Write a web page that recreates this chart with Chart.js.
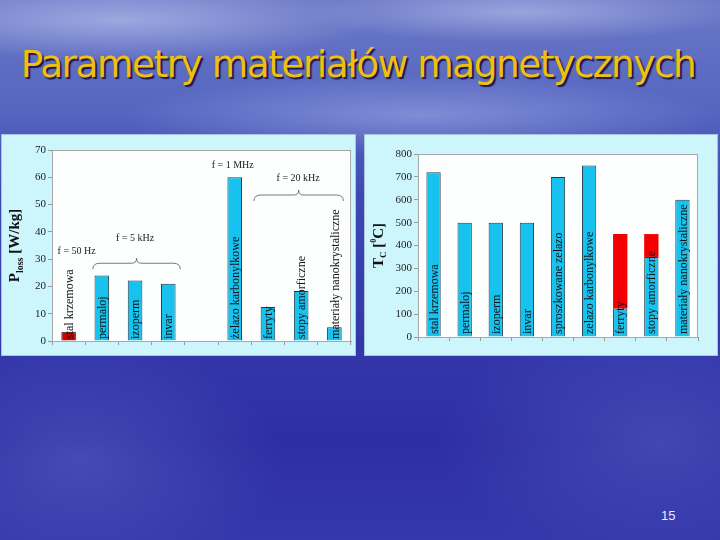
<!DOCTYPE html>
<html lang="pl">
<head>
<meta charset="UTF-8">
<title>Parametry materiałów magnetycznych</title>
<script src="https://cdn.jsdelivr.net/npm/chart.js@4.4.0/dist/chart.umd.min.js"></script>
<style>
    body {
        margin: 0;
        width: 720px;
        height: 540px;
        overflow: hidden;
        position: relative;
        background:
            radial-gradient(ellipse 260px 40px at 120px 20px, rgba(200,210,245,0.55), rgba(200,210,245,0)),
            radial-gradient(ellipse 220px 30px at 520px 12px, rgba(200,210,245,0.5), rgba(200,210,245,0)),
            radial-gradient(ellipse 300px 40px at 420px 115px, rgba(180,190,240,0.45), rgba(180,190,240,0)),
            radial-gradient(ellipse 200px 120px at 80px 460px, rgba(90,100,200,0.5), rgba(90,100,200,0)),
            radial-gradient(ellipse 220px 120px at 660px 440px, rgba(90,100,200,0.45), rgba(90,100,200,0)),
            linear-gradient(#6b78c6 0px, #5565c0 110px, #3d48b2 200px, #3236a8 360px, #2d2ea2 440px, #3438aa 540px);
        font-family: "Liberation Serif", serif;
    }
    h1 {
        position: absolute;
        left: 0;
        width: 716px;
        top: 42px;
        margin: 0;
        text-align: center;
        font-family: "DejaVu Sans", sans-serif;
        font-weight: normal;
        font-size: 38px;
        letter-spacing: -1.5px;
        color: #efbf12;
        text-shadow: 2px 2px 1px #1a1a50;
        transform: scaleX(0.985);
    }
    .panel {
        position: absolute;
        top: 135px;
        height: 220px;
        background: #ccf6fc;
        box-shadow: 0 0 0 1px #a9c4d8;
    }
    #p1 { left: 2px; width: 353px; }
    #p2 { left: 365px; width: 352px; }
    .num {
        position: absolute;
        left: 661px;
        top: 508px;
        color: #e8ecff;
        font-family: "Liberation Sans", sans-serif;
        font-size: 13px;
    }
</style>
</head>
<body>
<h1>Parametry materiałów magnetycznych</h1>
<div class="panel" id="p1"><canvas id="lossChart" width="353" height="220"></canvas></div>
<div class="panel" id="p2"><canvas id="tcChart" width="352" height="220"></canvas></div>
<div class="num">15</div>

<script>
    // straty mocy
    const lossLabels = ['stal krzemowa', 'permaloj', 'izoperm', 'invar', '', 'żelazo karbonylkowe', 'ferryty', 'stopy amorficzne', 'materiały nanokrystaliczne'];
    const lossValues = [3.4, 24, 22.2, 21, null, 60, 12.5, 18.3, 5];
    const lossTicks = [0, 10, 20, 30, 40, 50, 60, 70];

    // temperatura Curie
    const tcLabels = ['stal krzemowa', 'permaloj', 'izoperm', 'invar', 'sproszkowane zelazo', 'zelazo karbonylkowe', 'ferryty', 'stopy amorficzne', 'materiały nanokrystaliczne'];
    const tcLow = [720, 500, 500, 500, 700, 750, 125, 350, 600];
    const tcHigh = [null, null, null, null, null, null, 450, 450, null];
    const tcTicks = [0, 100, 200, 300, 400, 500, 600, 700, 800];

    const CYAN = '#17c2ef';
    const EDGE = '#203c48';
    const serif = '"Liberation Serif", serif';

    // rotated names inside bars, plot frame, axis title, brace notes
    const decor = {
        id: 'decor',
        beforeDatasetsDraw(chart) {
            const a = chart.chartArea, ctx = chart.ctx;
            ctx.save();
            ctx.fillStyle = '#fdffff';
            ctx.fillRect(a.left, a.top, a.right - a.left, a.bottom - a.top);
            ctx.strokeStyle = '#a8a8a8';
            ctx.lineWidth = 1;
            ctx.strokeRect(a.left + 0.5, a.top + 0.5, a.right - a.left - 1, a.bottom - a.top);
            ctx.restore();
        },
        afterDatasetsDraw(chart, args, opts) {
            const ctx = chart.ctx, x = chart.scales.x, y = chart.scales.y;
            const a = chart.chartArea;
            ctx.save();
            ctx.fillStyle = '#111';
            ctx.font = '12px ' + serif;
            ctx.textAlign = 'left';
            ctx.textBaseline = 'middle';
            chart.data.labels.forEach((lab, i) => {
                if (!lab) return;
                ctx.save();
                ctx.translate(x.getPixelForValue(i) + 1, a.bottom - opts.lift);
                ctx.rotate(-Math.PI / 2);
                ctx.fillText(lab, 0, 0);
                ctx.restore();
            });

            // axis title with sub/superscripts
            const parts = opts.title;
            let w = 0;
            parts.forEach(p => { ctx.font = p.f; p.w = ctx.measureText(p.t).width; w += p.w; });
            ctx.save();
            ctx.translate(a.left - opts.titleDx, (a.top + a.bottom) / 2);
            ctx.rotate(-Math.PI / 2);
            ctx.textAlign = 'left';
            ctx.textBaseline = 'alphabetic';
            let cx = -w / 2;
            parts.forEach(p => {
                ctx.font = p.f;
                ctx.fillText(p.t, cx, p.dy);
                cx += p.w;
            });
            ctx.restore();

            // frequency notes
            ctx.font = '10px ' + serif;
            ctx.textAlign = 'center';
            ctx.fillStyle = '#222';
            (opts.notes || []).forEach(n => {
                ctx.fillText(n.text, x.getPixelForValue(n.at) + (n.dx || 0), y.getPixelForValue(n.v));
            });
            ctx.strokeStyle = '#555';
            ctx.lineWidth = 0.8;
            (opts.braces || []).forEach(b => {
                const x1 = x.getPixelForValue(b.from) + b.dx1, x2 = x.getPixelForValue(b.to) + b.dx2;
                const yb = y.getPixelForValue(b.v), xm = (x1 + x2) / 2;
                ctx.beginPath();
                ctx.moveTo(x1, yb + 6);
                ctx.quadraticCurveTo(x1, yb, x1 + 7, yb);
                ctx.lineTo(xm - 5, yb);
                ctx.quadraticCurveTo(xm, yb, xm, yb - 5);
                ctx.quadraticCurveTo(xm, yb, xm + 5, yb);
                ctx.lineTo(x2 - 7, yb);
                ctx.quadraticCurveTo(x2, yb, x2, yb + 6);
                ctx.stroke();
            });
            ctx.restore();
        }
    };

    function axes(ticks, yWidth, xHeight) {
        return {
            x: {
                stacked: true,
                ticks: { display: false },
                grid: { drawOnChartArea: false, tickLength: 4, color: '#999' },
                border: { color: '#999' },
                afterFit: s => { s.height = xHeight; }
            },
            y: {
                stacked: true,
                min: ticks[0],
                max: ticks[ticks.length - 1],
                afterBuildTicks: s => { s.ticks = ticks.map(v => ({ value: v })); },
                ticks: { color: '#222', padding: 2, font: { family: serif, size: 11 } },
                grid: { drawOnChartArea: false, tickLength: 4, color: '#999' },
                border: { color: '#999' },
                afterFit: s => { s.width = yWidth; }
            }
        };
    }

    Chart.register(decor);

    new Chart(document.getElementById('lossChart'), {
        type: 'bar',
        data: {
            labels: lossLabels,
            datasets: [{
                data: lossValues,
                backgroundColor: lossValues.map((v, i) => i === 0 ? '#c80000' : CYAN),
                borderColor: EDGE,
                borderWidth: 1,
                barPercentage: 0.44,
                categoryPercentage: 1
            }]
        },
        options: {
            responsive: false,
            animation: false,
            layout: { padding: { top: 15, right: 4 } },
            plugins: {
                legend: { display: false },
                tooltip: { enabled: false },
                decor: {
                    lift: 2,
                    titleDx: 33,
                    title: [
                        { t: 'P', f: 'bold 15px ' + serif, dy: 0 },
                        { t: 'loss', f: 'bold 10px ' + serif, dy: 4 },
                        { t: ' [W/kg]', f: 'bold 15px ' + serif, dy: 0 }
                    ],
                    notes: [
                        { text: 'f = 50 Hz', at: 0, dx: 8, v: 33 },
                        { text: 'f = 5 kHz', at: 2, v: 37.5 },
                        { text: 'f = 1 MHz', at: 5, dx: -2, v: 64.5 },
                        { text: 'f = 20 kHz', at: 7, dx: -3, v: 59.5 }
                    ],
                    braces: [
                        { from: 1, to: 3, dx1: -9, dx2: 12, v: 28.5 },
                        { from: 6, to: 8, dx1: -14, dx2: 9, v: 53.5 }
                    ]
                }
            },
            scales: axes(lossTicks, 50, 14)
        }
    });

    new Chart(document.getElementById('tcChart'), {
        type: 'bar',
        data: {
            labels: tcLabels,
            datasets: [
                {
                    data: tcLow,
                    backgroundColor: CYAN,
                    borderColor: EDGE,
                    borderWidth: 1,
                    barPercentage: 0.46,
                    categoryPercentage: 1
                },
                {
                    data: tcHigh.map((v, i) => v === null ? null : v - tcLow[i]),
                    backgroundColor: '#f40000',
                    borderWidth: 0,
                    barPercentage: 0.46,
                    categoryPercentage: 1
                }
            ]
        },
        options: {
            responsive: false,
            animation: false,
            layout: { padding: { top: 19, right: 19 } },
            plugins: {
                legend: { display: false },
                tooltip: { enabled: false },
                decor: {
                    lift: 3,
                    titleDx: 35,
                    title: [
                        { t: 'T', f: 'bold 15px ' + serif, dy: 0 },
                        { t: 'C', f: 'bold 9px ' + serif, dy: 3 },
                        { t: ' [', f: 'bold 15px ' + serif, dy: 0 },
                        { t: '0', f: 'bold 8px ' + serif, dy: -7 },
                        { t: 'C]', f: 'bold 15px ' + serif, dy: 0 }
                    ]
                }
            },
            scales: axes(tcTicks, 53, 18)
        }
    });
</script>
</body>
</html>
